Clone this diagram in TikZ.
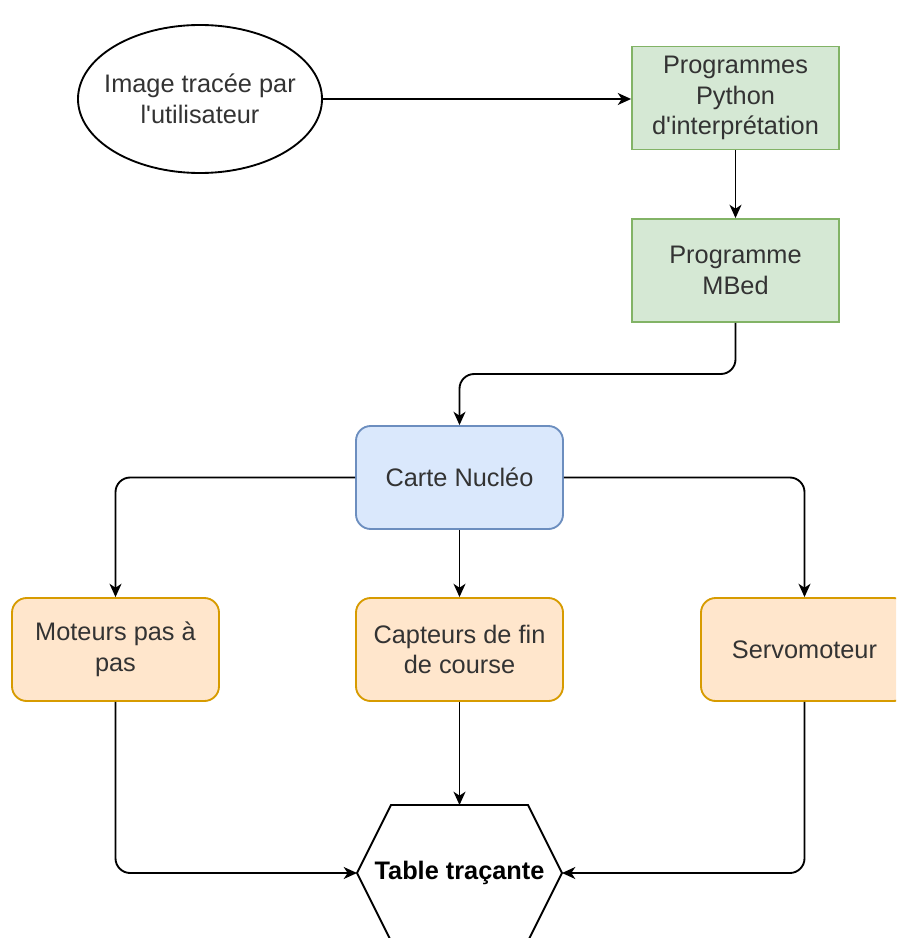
\documentclass[tikz,border=0pt]{standalone}
\usepackage{fontspec}
\setmainfont{Liberation Sans}
\usetikzlibrary{arrows.meta,shapes.geometric}
\definecolor{txt}{HTML}{333333}
\definecolor{gfill}{HTML}{D5E8D4}
\definecolor{gdraw}{HTML}{82B366}
\definecolor{bfill}{HTML}{DAE8FC}
\definecolor{bdraw}{HTML}{6C8EBF}
\definecolor{ofill}{HTML}{FFE6CC}
\definecolor{odraw}{HTML}{D79B00}
\tikzset{
  base/.style={align=center, text=txt, font=\fontsize{19}{22.9}\selectfont, line width=1.4pt, inner sep=2pt},
  greenbox/.style={base, rectangle, draw=gdraw, fill=gfill, minimum width=155.25pt, minimum height=77.25pt},
  bluebox/.style={base, rectangle, rounded corners=11pt, draw=bdraw, fill=bfill, minimum width=155.25pt, minimum height=77.25pt},
  orangebox/.style={base, rectangle, rounded corners=11pt, draw=odraw, fill=ofill, minimum width=155.25pt, minimum height=77.25pt},
  ovalnode/.style={ellipse, draw=black, fill=white, line width=1.4pt, minimum width=183pt, minimum height=111pt, inner sep=0pt},
  conn/.style={draw=black, line width=1.4pt, rounded corners=11pt, -{Stealth[length=10pt,width=9pt,inset=3pt]}}
}
\begin{document}
\begin{tikzpicture}[x=0.75pt,y=-0.75pt]
\clip (0,0) rectangle (896,938);
\fill[white] (0,0) rectangle (896,938);
\node[ovalnode] (img) at (200,99) {};
\node[base] (imgtext) at (img.center) {Image tracée par\\l\textquotesingle utilisateur};
\node[greenbox] (py) at (735.5,98) {Programmes\\Python\\d\textquotesingle interprétation};
\node[greenbox] (mbed) at (735.5,270.5) {Programme\\MBed};
\node[bluebox] (nuc) at (459.5,477.5) {Carte Nucléo};
\node[orangebox] (mot) at (115.5,649.5) {Moteurs pas à\\pas};
\node[orangebox] (cap) at (459.5,649.5) {Capteurs de fin\\de course};
\node[orangebox] (servo) at (804.5,649.5) {Servomoteur};
% hexagon
\coordinate (hexT) at (459.5,805);
\coordinate (hexL) at (357,873);
\coordinate (hexR) at (562,873);
\draw[line width=1.4pt, fill=white] (391,805) -- (528,805) -- (hexR) -- (528,941) -- (391,941) -- (hexL) -- cycle;
\node[font=\fontsize{19}{22.9}\selectfont\bfseries, text=black] (table) at (459.5,873) {Table traçante};
% connectors
\draw[conn] (img.east) -- (py.west |- img.east);
\draw[conn] (py.south) -- (mbed.north);
\draw[conn] (mbed.south) -- (735.5,374) -- (459.5,374) -- (nuc.north);
\draw[conn] (nuc.west) -- (mot.north |- nuc.west) -- (mot.north);
\draw[conn] (nuc.south) -- (cap.north);
\draw[conn] (nuc.east) -- (servo.north |- nuc.east) -- (servo.north);
\draw[conn] (mot.south) -- (mot.south |- hexL) -- (hexL);
\draw[conn] (cap.south) -- (hexT);
\draw[conn] (servo.south) -- (servo.south |- hexR) -- (hexR);
\end{tikzpicture}
\end{document}
